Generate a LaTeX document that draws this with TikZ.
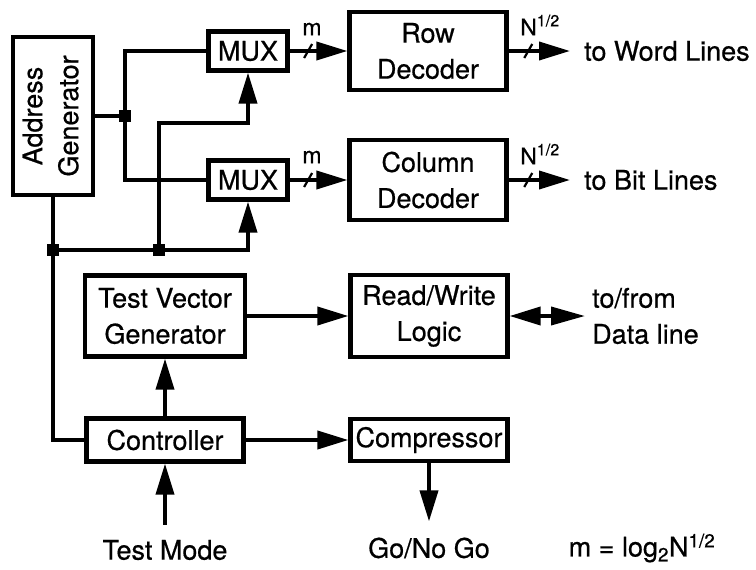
\documentclass[tikz,border=0pt]{standalone}
\usepackage{fontspec}
\usepackage{graphicx}
\setmainfont[FakeBold=0.6]{TeX Gyre Heros}
\usetikzlibrary{arrows.meta}
\begin{document}
\begin{tikzpicture}[x=1pt,y=-1pt,
  every node/.style={font=\fontsize{27}{36}\selectfont},
  blk/.style={draw, line width=4.2pt, inner sep=0pt, align=center},
  wire/.style={line width=3.8pt},
  arr/.style={wire, -{Triangle[length=31pt,width=18pt]}},
  barr/.style={wire, {Triangle[length=31pt,width=18pt]}-{Triangle[length=34pt,width=18pt]}},
  dotj/.style={fill, inner sep=0pt, minimum size=12pt},
  tick/.style={line width=2.2pt},
  small/.style={font=\fontsize{23}{28}\selectfont, inner sep=0pt}
]
\useasboundingbox (0,0) rectangle (756,570);

% blocks
\node[blk, minimum width=80pt, minimum height=158pt] (ag) at (53,116)
  {\rotatebox{90}{\begin{tabular}{@{}c@{}}Address\\Generator\end{tabular}}};
\node[blk, minimum width=79pt, minimum height=39pt] (mux1) at (248,51) {MUX};
\node[blk, minimum width=79pt, minimum height=39pt] (mux2) at (248,180) {MUX};
\node[blk, minimum width=157pt, minimum height=78pt] (rowd) at (428,51) {Row\\Decoder};
\node[blk, minimum width=157pt, minimum height=80pt] (cold) at (428,180) {Column\\Decoder};
\node[blk, minimum width=160pt, minimum height=81pt] (tvg) at (165,316) {Test Vector\\Generator};
\node[blk, minimum width=157pt, minimum height=82pt] (rw) at (429,316) {Read/Write\\Logic};
\node[blk, minimum width=157pt, minimum height=43pt] (ctrl) at (165,440) {Controller};
\node[blk, minimum width=157pt, minimum height=42pt] (comp) at (429,440) {Compressor};

% text nodes
\node[anchor=west, inner xsep=14pt, inner ysep=0pt] (wl) at (570,51) {to Word Lines};
\node[anchor=west, inner xsep=14pt, inner ysep=0pt] (bl) at (570,180) {to Bit Lines};
\node[anchor=west, inner xsep=7pt, inner ysep=0pt, align=left] (dl) at (585,316) {to/from\\Data line};
\node[inner xsep=0pt, inner ysep=15pt] (tm) at (165,550) {Test Mode};
\node[inner xsep=0pt, inner ysep=16pt] (gng) at (429,548) {Go/No Go};
\node[inner sep=0pt] (meq) at (642,548) {m = log\textsubscript{2}N\textsuperscript{1/2}};
\node[small] (m1) at (312,29) {m};
\node[small] (m2) at (312,157) {m};
\node[small] (n1) at (540,25) {N\textsuperscript{1/2}};
\node[small] (n2) at (540,154) {N\textsuperscript{1/2}};

% junctions
\node[dotj] (j1) at (125,116) {};
\node[dotj] (j2) at (53,250) {};
\node[dotj] (j3) at (159,250) {};
\coordinate (k) at (248,123);

% wires
\draw[wire] (ag) -- (j1);
\draw[wire] (j1) |- (mux1);
\draw[wire] (j1) |- (mux2);
\draw[wire] (ag.south) -- (j2.center) |- (ctrl);
\draw[arr] (j2.center) -| (mux2);
\draw[arr] (j3.center) |- (k) -- (mux1);
\draw[arr] (mux1) -- coordinate[pos=0.32] (s1) (rowd);
\draw[arr] (mux2) -- coordinate[pos=0.32] (s2) (cold);
\draw[arr] (rowd) -- coordinate[pos=0.32] (s3) (wl);
\draw[arr] (cold) -- coordinate[pos=0.32] (s4) (bl);
\draw[arr] (tvg) -- (rw);
\draw[barr] (rw) -- (dl);
\draw[arr] (ctrl) -- (comp);
\draw[arr] (ctrl) -- (tvg);
\draw[arr] (tm) -- (ctrl);
\draw[arr] (comp) -- (gng);

% bus ticks
\foreach \s in {s1,s2,s3,s4}
  \draw[tick] (\s) ++(-4,7) -- ++(8,-14);
\end{tikzpicture}
\end{document}
